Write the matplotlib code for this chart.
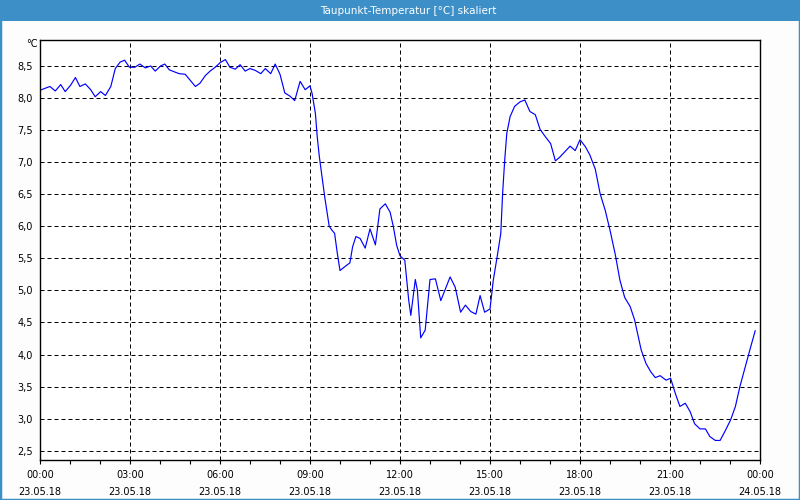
import matplotlib
matplotlib.use('Agg')
import matplotlib.pyplot as plt
from matplotlib.patches import Rectangle

# time in hours since 23.05.18 00:00, dew point in degC
hours = [0.00, 0.16, 0.33, 0.51, 0.69, 0.84, 1.02, 1.18, 1.33, 1.51, 1.69, 1.84,
         2.02, 2.18, 2.36, 2.51, 2.67, 2.82, 2.98, 3.16, 3.33, 3.51, 3.69, 3.84,
         4.02, 4.16, 4.31, 4.47, 4.64, 4.84, 5.00, 5.18, 5.33, 5.51, 5.67, 5.84,
         6.00, 6.18, 6.33, 6.51, 6.67, 6.84, 7.00, 7.18, 7.36, 7.51, 7.69, 7.84,
         8.00, 8.16, 8.33, 8.49, 8.67, 8.84, 9.00, 9.07, 9.18, 9.24, 9.31, 9.40,
         9.49, 9.56, 9.64, 9.73, 9.82, 9.91, 10.00, 10.16, 10.33, 10.42, 10.53, 10.67,
         10.84, 11.00, 11.18, 11.33, 11.51, 11.67, 11.78, 11.89, 12.00, 12.16, 12.22, 12.29,
         12.36, 12.51, 12.58, 12.69, 12.84, 13.00, 13.18, 13.36, 13.67, 13.84, 14.02, 14.18,
         14.36, 14.53, 14.67, 14.82, 15.00, 15.11, 15.24, 15.36, 15.42, 15.49, 15.56, 15.67,
         15.82, 16.00, 16.16, 16.33, 16.51, 16.67, 16.84, 17.02, 17.18, 17.33, 17.51, 17.67,
         17.84, 18.00, 18.18, 18.33, 18.51, 18.67, 18.84, 19.00, 19.18, 19.33, 19.49, 19.67,
         19.82, 20.04, 20.20, 20.36, 20.51, 20.67, 20.87, 21.02, 21.18, 21.33, 21.51, 21.67,
         21.82, 22.00, 22.18, 22.33, 22.51, 22.67, 22.84, 23.02, 23.18, 23.33, 23.51, 23.69,
         23.84]
dewpoint = [8.12, 8.15, 8.18, 8.11, 8.21, 8.10, 8.20, 8.32, 8.18, 8.22, 8.13, 8.02,
            8.10, 8.04, 8.18, 8.46, 8.56, 8.59, 8.48, 8.48, 8.53, 8.47, 8.50, 8.42,
            8.50, 8.53, 8.44, 8.41, 8.38, 8.37, 8.28, 8.18, 8.23, 8.35, 8.42, 8.48,
            8.55, 8.60, 8.48, 8.45, 8.52, 8.42, 8.46, 8.43, 8.38, 8.46, 8.38, 8.53,
            8.37, 8.08, 8.03, 7.96, 8.26, 8.13, 8.19, 8.07, 7.76, 7.40, 7.09, 6.77,
            6.46, 6.25, 6.00, 5.94, 5.89, 5.58, 5.31, 5.37, 5.43, 5.68, 5.84, 5.81,
            5.66, 5.96, 5.71, 6.27, 6.35, 6.22, 5.99, 5.70, 5.54, 5.47, 5.18, 4.85,
            4.61, 5.17, 5.00, 4.26, 4.38, 5.17, 5.18, 4.84, 5.21, 5.05, 4.66, 4.77,
            4.67, 4.63, 4.92, 4.66, 4.71, 5.16, 5.53, 5.89, 6.51, 7.03, 7.45, 7.71,
            7.87, 7.94, 7.97, 7.79, 7.74, 7.51, 7.40, 7.29, 7.02, 7.08, 7.17, 7.25,
            7.18, 7.35, 7.24, 7.11, 6.89, 6.51, 6.25, 5.94, 5.55, 5.16, 4.89, 4.75,
            4.54, 4.07, 3.86, 3.73, 3.64, 3.67, 3.60, 3.63, 3.39, 3.19, 3.24, 3.11,
            2.92, 2.84, 2.84, 2.72, 2.66, 2.66, 2.81, 2.98, 3.19, 3.50, 3.81, 4.12,
            4.37]

x_ticks = [0, 3, 6, 9, 12, 15, 18, 21, 24]
x_times = ['00:00', '03:00', '06:00', '09:00', '12:00', '15:00', '18:00', '21:00', '00:00']
x_dates = ['23.05.18'] * 8 + ['24.05.18']
y_ticks = [2.5, 3.0, 3.5, 4.0, 4.5, 5.0, 5.5, 6.0, 6.5, 7.0, 7.5, 8.0, 8.5]
y_labels = ['2,5', '3,0', '3,5', '4,0', '4,5', '5,0', '5,5', '6,0', '6,5', '7,0', '7,5', '8,0', '8,5']

title = 'Taupunkt-Temperatur [°C] skaliert'
bar_blue = '#3d8fc7'

fig = plt.figure(figsize=(8, 5), dpi=100, facecolor='#fcfdfc')
ax = fig.add_axes([0.05, 0.08, 0.90, 0.84])

ax.plot(hours, dewpoint, color='#0000ff', lw=0.85)

ax.set_xlim(0, 24)
ax.set_ylim(2.355, 8.905)

ax.set_xticks(x_ticks)
ax.set_xticklabels([t + '\n' + d for t, d in zip(x_times, x_dates)], fontsize=7)
for lab in ax.get_xticklabels():
    lab.set_linespacing(1.85)
ax.set_xticks(range(25), minor=True)
ax.set_yticks(y_ticks)
ax.set_yticklabels(y_labels, fontsize=7)

ax.tick_params(axis='x', which='both', length=3, width=0.8, pad=4, direction='out')
ax.tick_params(axis='y', length=0, pad=5)

ax.grid(True, which='major', color='black', lw=0.72, linestyle=(0, (4, 3)))
for s in ax.spines.values():
    s.set_linewidth(1.0)

fig.text(0.047, 1 - 44 / 500, '°C', ha='right', va='center', fontsize=7)

# title bar and frame
fig.patches.append(Rectangle((0, 0.958), 1, 0.042, transform=fig.transFigure,
                             facecolor=bar_blue, edgecolor='none'))
fig.patches.append(Rectangle((0, 0), 1, 1, transform=fig.transFigure,
                             facecolor='none', edgecolor=bar_blue, lw=2.5))
fig.text(0.51, 0.979, title, ha='center', va='center', color='white', fontsize=7.5)

fig.savefig('out.png', dpi=100, facecolor=fig.get_facecolor())
